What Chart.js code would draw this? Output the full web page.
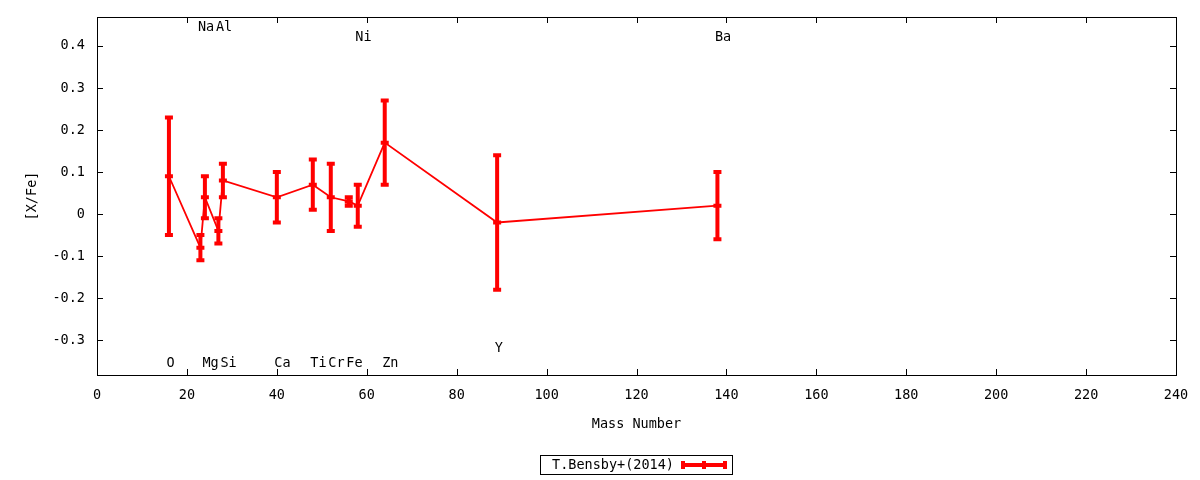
<!DOCTYPE html>
<html lang="en">
<head>
  <meta charset="UTF-8" />
  <title>[X/Fe] vs Mass Number</title>
  <script src="https://cdn.jsdelivr.net/npm/chart.js"></script>
  <style>
    body {
      margin: 0;
      background: white;
    }
    .chart-box {
      position: relative;
      width: 1200px;
      height: 480px;
    }
  </style>
</head>
<body>
  <div class="chart-box">
    <canvas id="abundChart"></canvas>
  </div>

  <script>
    // T.Bensby+(2014) abundances
    const elements = ['O', 'Na', 'Mg', 'Al', 'Si', 'Ca', 'Ti', 'Cr', 'Fe', 'Ni', 'Zn', 'Y', 'Ba'];
    const massNumbers = [16, 23, 24, 27, 28, 40, 48, 52, 56, 58, 64, 89, 138];
    const xfeValues = [0.09, -0.08, 0.04, -0.04, 0.08, 0.04, 0.07, 0.04, 0.03, 0.02, 0.17, -0.02, 0.02];
    const xfeErrors = [0.14, 0.03, 0.05, 0.03, 0.04, 0.06, 0.06, 0.08, 0.01, 0.05, 0.10, 0.16, 0.08];
    // where the element names sit ([X/Fe] value of the label)
    const labelLevels = [-0.355, 0.445, -0.355, 0.445, -0.355, -0.355, -0.355, -0.355, -0.355, 0.42, -0.355, -0.32, 0.42];

    const xTicks = [0, 20, 40, 60, 80, 100, 120, 140, 160, 180, 200, 220, 240];
    const yTicks = [-0.3, -0.2, -0.1, 0, 0.1, 0.2, 0.3, 0.4];
    const seriesName = 'T.Bensby+(2014)';

    const FONT = '"DejaVu Sans Mono", monospace';
    const RED = '#ff0000';

    // gnuplot look: frame with inward ticks on all sides, error bars, labels, boxed legend
    const gnuplotExtras = {
      id: 'gnuplotExtras',
      beforeDatasetsDraw(chart) {
        const { ctx, chartArea: a, scales: { x, y } } = chart;
        ctx.save();
        ctx.strokeStyle = '#000';
        ctx.lineWidth = 1;
        ctx.strokeRect(a.left + 0.5, a.top + 0.5, a.right - a.left, a.bottom - a.top);
        ctx.beginPath();
        xTicks.forEach(v => {
          const px = Math.round(x.getPixelForValue(v)) + 0.5;
          ctx.moveTo(px, a.bottom); ctx.lineTo(px, a.bottom - 6);
          ctx.moveTo(px, a.top); ctx.lineTo(px, a.top + 6);
        });
        yTicks.forEach(v => {
          const py = Math.round(y.getPixelForValue(v)) + 0.5;
          ctx.moveTo(a.left, py); ctx.lineTo(a.left + 6, py);
          ctx.moveTo(a.right, py); ctx.lineTo(a.right - 6, py);
        });
        ctx.stroke();

        // axis titles
        ctx.fillStyle = '#000';
        ctx.font = '13.5px ' + FONT;
        ctx.textAlign = 'center';
        ctx.textBaseline = 'middle';
        ctx.fillText('Mass Number', (a.left + a.right) / 2, 424);
        ctx.save();
        ctx.translate(32, 196);
        ctx.rotate(-Math.PI / 2);
        ctx.fillText('[X/Fe]', 0, 0);
        ctx.restore();
        ctx.restore();
      },
      afterDatasetsDraw(chart) {
        const { ctx, scales: { x, y } } = chart;
        ctx.save();
        ctx.strokeStyle = RED;
        ctx.lineWidth = 4;
        ctx.lineCap = 'butt';
        massNumbers.forEach((m, i) => {
          const px = x.getPixelForValue(m);
          const pTop = y.getPixelForValue(xfeValues[i] + xfeErrors[i]);
          const pMid = y.getPixelForValue(xfeValues[i]);
          const pBot = y.getPixelForValue(xfeValues[i] - xfeErrors[i]);
          ctx.beginPath();
          ctx.moveTo(px, pTop - 2); ctx.lineTo(px, pBot + 2);
          [pTop, pMid, pBot].forEach(py => {
            ctx.moveTo(px - 4, py); ctx.lineTo(px + 4, py);
          });
          ctx.stroke();
        });

        // element names
        ctx.fillStyle = '#000';
        ctx.font = '13.5px ' + FONT;
        ctx.textAlign = 'left';
        ctx.textBaseline = 'middle';
        elements.forEach((el, i) => {
          ctx.fillText(el, x.getPixelForValue(massNumbers[i]) - 2.5, y.getPixelForValue(labelLevels[i]));
        });

        // legend box
        ctx.strokeStyle = '#000';
        ctx.lineWidth = 1;
        ctx.strokeRect(540.5, 455.5, 192, 19);
        ctx.fillText(seriesName, 552, 465);
        ctx.strokeStyle = RED;
        ctx.lineWidth = 4;
        ctx.beginPath();
        ctx.moveTo(683, 465); ctx.lineTo(725, 465);
        [683, 704, 725].forEach(lx => {
          ctx.moveTo(lx, 461); ctx.lineTo(lx, 469);
        });
        ctx.stroke();
        ctx.restore();
      }
    };

    new Chart(document.getElementById('abundChart'), {
      type: 'line',
      data: {
        datasets: [{
          label: seriesName,
          data: massNumbers.map((m, i) => ({ x: m, y: xfeValues[i] })),
          borderColor: RED,
          borderWidth: 1.8,
          pointRadius: 0,
          tension: 0,
          fill: false
        }]
      },
      options: {
        responsive: true,
        maintainAspectRatio: false,
        animation: false,
        layout: { padding: { top: 17, right: 24, left: 0, bottom: 0 } },
        plugins: {
          legend: { display: false },
          tooltip: { enabled: false }
        },
        scales: {
          x: {
            type: 'linear',
            min: 0,
            max: 240,
            afterFit: s => { s.height = 105; s.paddingLeft = 0; s.paddingRight = 0; },
            afterBuildTicks: s => { s.ticks = xTicks.map(v => ({ value: v })); },
            grid: { display: false, drawTicks: false },
            border: { display: false },
            ticks: {
              autoSkip: false,
              maxRotation: 0,
              padding: 12,
              color: '#000',
              font: { family: FONT, size: 13.5 },
              callback: v => String(v)
            }
          },
          y: {
            type: 'linear',
            min: -0.383,
            max: 0.469,
            afterFit: s => { s.width = 97; s.paddingTop = 0; s.paddingBottom = 0; },
            afterBuildTicks: s => { s.ticks = yTicks.map(v => ({ value: v })); },
            grid: { display: false, drawTicks: false },
            border: { display: false },
            ticks: {
              autoSkip: false,
              padding: 12,
              color: '#000',
              font: { family: FONT, size: 13.5 },
              callback: v => Math.abs(v) < 1e-9 ? '0' : Number(v).toFixed(1)
            }
          }
        }
      },
      plugins: [gnuplotExtras]
    });
  </script>
</body>
</html>
